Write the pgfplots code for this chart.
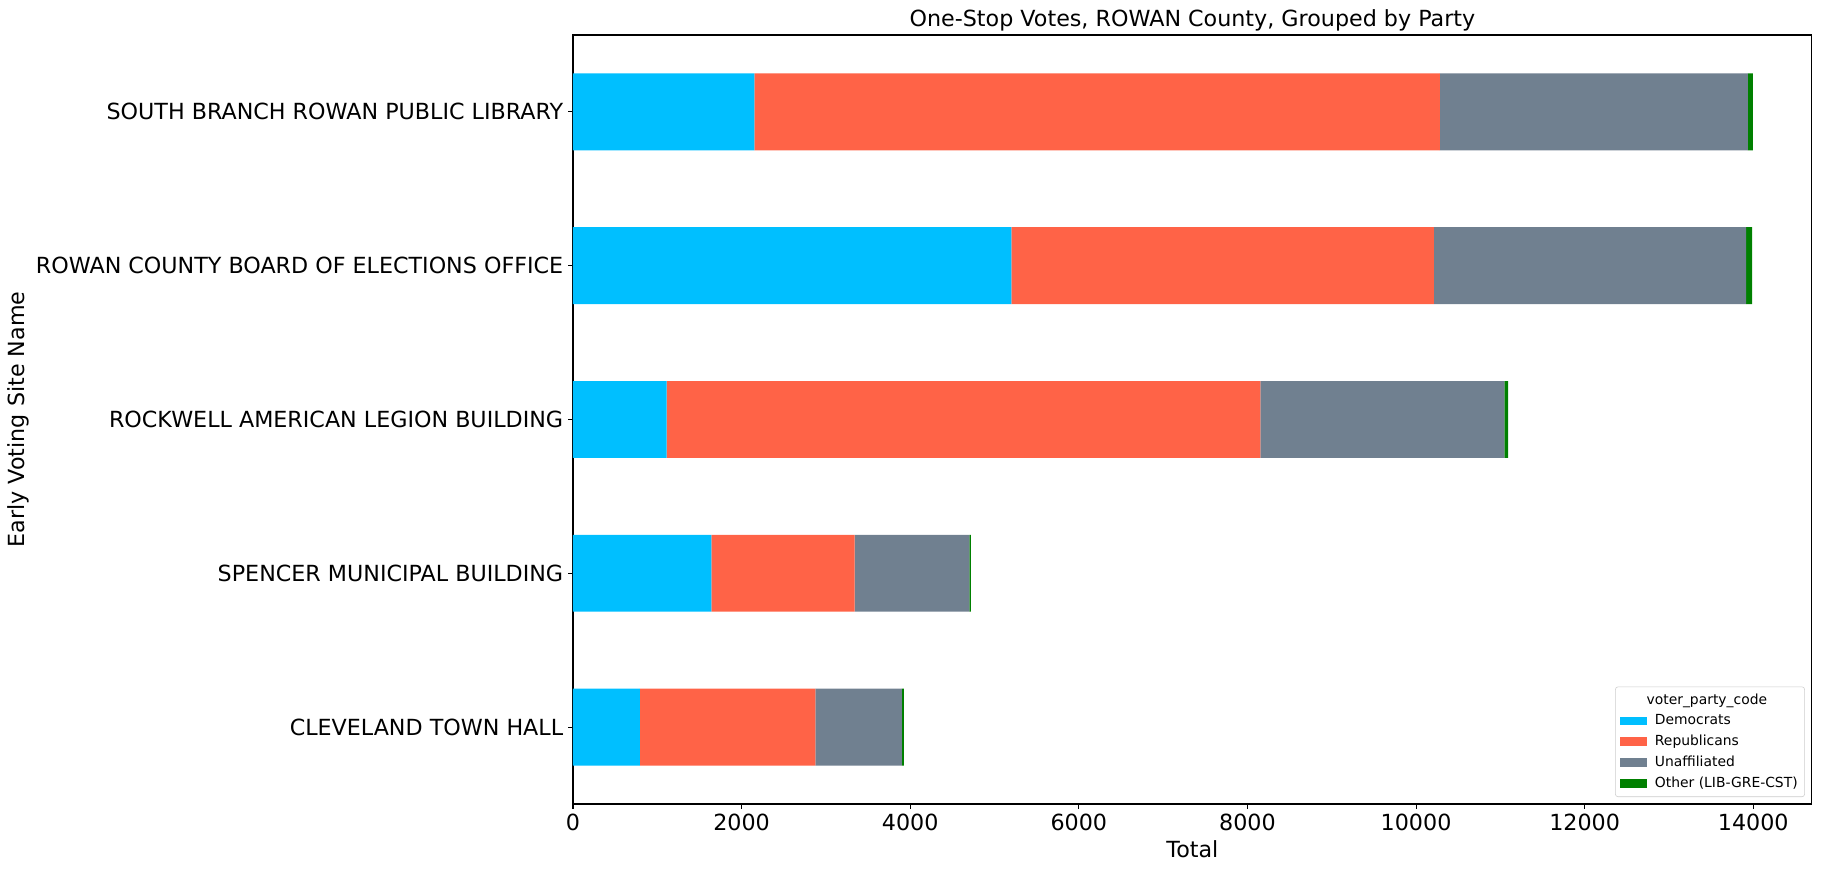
\documentclass[border=0pt]{standalone}
\usepackage{fontspec}
\setmainfont{DejaVu Sans}
\usepackage{pgfplots}
\pgfplotsset{compat=1.18}
\definecolor{cDem}{RGB}{0,191,255}
\definecolor{cRep}{RGB}{255,99,71}
\definecolor{cUna}{RGB}{112,128,144}
\definecolor{cOth}{RGB}{0,128,0}
\definecolor{legedge}{RGB}{204,204,204}
\newcommand{\bigf}{\fontsize{16}{19.2}\selectfont}
\begin{document}
\begin{tikzpicture}
\useasboundingbox (-412.56pt,-46.8pt) rectangle (899.28pt,578.88pt);
\begin{axis}[
  at={(0,0)}, anchor=south west,
  scale only axis, width=892pt, height=553.68pt,
  xbar stacked, bar width=0.5,
  xmin=0, xmax=14695, ymin=-0.5, ymax=4.5,
  xtick={0,2000,...,14000},
  scaled x ticks=false,
  /pgf/number format/.cd, 1000 sep={}, assume math mode=true, /pgfplots/.cd,
  ytick={0,1,2,3,4},
  yticklabels={CLEVELAND TOWN HALL, SPENCER MUNICIPAL BUILDING, ROCKWELL AMERICAN LEGION BUILDING, ROWAN COUNTY BOARD OF ELECTIONS OFFICE, SOUTH BRANCH ROWAN PUBLIC LIBRARY},
  tick align=outside, major tick length=3.5pt,
  xtick pos=bottom, ytick pos=left,
  every tick/.style={black, line width=0.8pt},
  axis line style={line width=0.8pt},
  ticklabel style={font=\bigf},
  title={One-Stop Votes, ROWAN County, Grouped by Party},
  title style={font=\bigf, at={(axis description cs:0.5,1)}, anchor=base, yshift=0.4pt},
  xlabel={Total},
  xlabel style={font=\bigf, at={(axis description cs:0.5,0)}, anchor=base, yshift=-38.2pt},
  ylabel={Early Voting Site Name},
  every axis y label/.style={font=\bigf, at={(axis description cs:-0.448,0.5)}, anchor=center, rotate=90},
  legend cell align=left,
  legend image code/.code={\fill[#1,draw=none,sharp corners] (0pt,-3.1pt) rectangle (20pt,3.1pt);},
  legend style={font=\fontsize{10}{12}\selectfont, draw=legedge, rounded corners=2pt, fill=white,
    at={(axis description cs:1,0)}, anchor=south east, xshift=-5pt, yshift=5pt,
    row sep=2pt, inner xsep=3pt, inner ysep=3pt,
    /tikz/every odd column/.append style={column sep=3.5pt}},
]
\addlegendimage{empty legend}
\addlegendentry{\hspace*{-6pt}voter\_party\_code}
\addplot[fill=cDem, draw=none] coordinates {(794,0) (1641,1) (1112,2) (5200,3) (2150,4)};
\addlegendentry{Democrats}
\addplot[fill=cRep, draw=none] coordinates {(2081,0) (1700,1) (7040,2) (5012,3) (8132,4)};
\addlegendentry{Republicans}
\addplot[fill=cUna, draw=none] coordinates {(1027,0) (1361,1) (2894,2) (3702,3) (3653,4)};
\addlegendentry{Unaffiliated}
\addplot[fill=cOth, draw=none] coordinates {(22,0) (16,1) (45,2) (71,3) (60,4)};
\addlegendentry{Other (LIB-GRE-CST)}
\end{axis}
\end{tikzpicture}
\end{document}
